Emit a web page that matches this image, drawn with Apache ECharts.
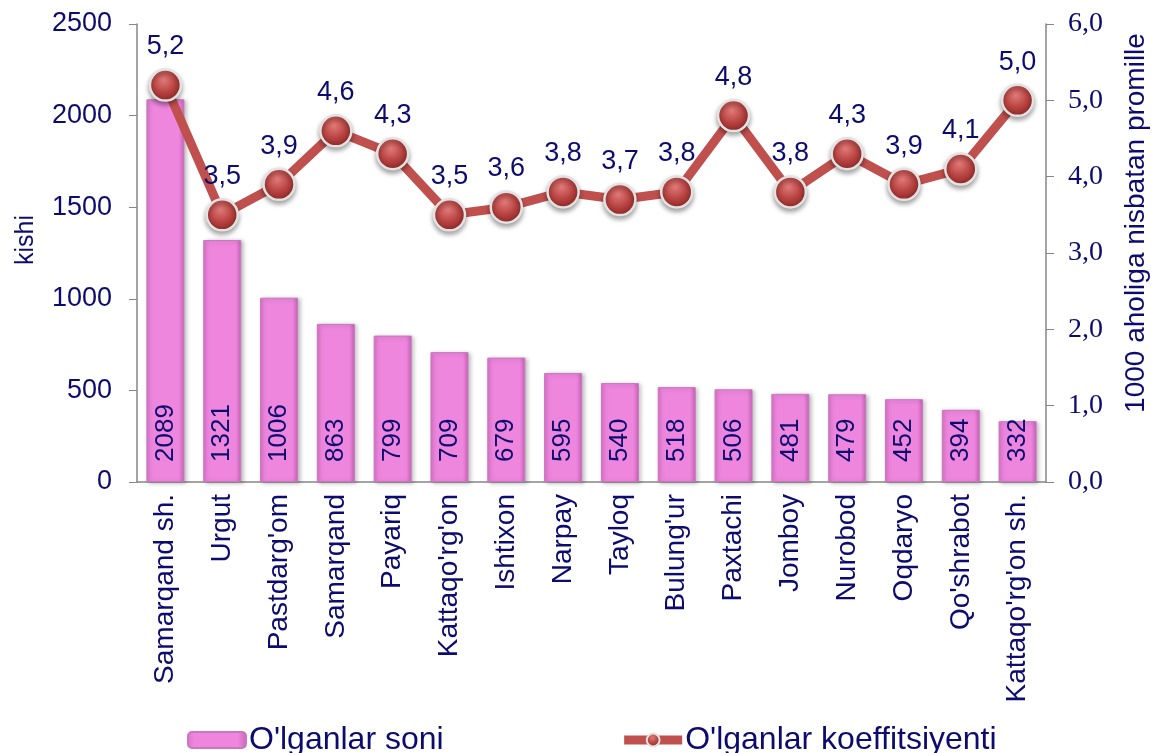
<!DOCTYPE html>
<html>
<head>
<meta charset="utf-8">
<script src="https://cdn.jsdelivr.net/npm/echarts@6/dist/echarts.min.js"></script>
<style>
  html, body { margin: 0; padding: 0; background: #fff; }
  #chart { width: 1158px; height: 753px; }
</style>
</head>
<body>
<div id="chart"></div>
<script>
// data
const districts = ['Samarqand sh.', 'Urgut', "Pastdarg'om", 'Samarqand', 'Payariq', "Kattaqo'rg'on",
  'Ishtixon', 'Narpay', 'Tayloq', "Bulung'ur", 'Paxtachi', 'Jomboy', 'Nurobod', 'Oqdaryo',
  "Qo'shrabot", "Kattaqo'rg'on sh."];
const deaths = [2089, 1321, 1006, 863, 799, 709, 679, 595, 540, 518, 506, 481, 479, 452, 394, 332];
const rates = [5.2, 3.5, 3.9, 4.6, 4.3, 3.5, 3.6, 3.8, 3.7, 3.8, 4.8, 3.8, 4.3, 3.9, 4.1, 5.0];

const navy = '#0c0c70';
const axisGray = '#868686';
const comma = v => v.toFixed(1).replace('.', ',');

const chart = echarts.init(document.getElementById('chart'));

const barFill = new echarts.graphic.LinearGradient(0, 0, 1, 0, [
  { offset: 0, color: '#dc70cc' },
  { offset: 0.12, color: '#ee86de' },
  { offset: 0.85, color: '#ee86de' },
  { offset: 1, color: '#c862b8' }
]);
const markerFill = new echarts.graphic.RadialGradient(0.45, 0.35, 0.65, [
  { offset: 0, color: '#e07a78' },
  { offset: 0.55, color: '#b94442' },
  { offset: 1, color: '#8c2624' }
]);

const option = {
  animation: false,
  backgroundColor: '#fff',
  textStyle: { fontFamily: 'Liberation Sans, Arial, sans-serif' },
  grid: { left: 137, right: 105, top: 24, bottom: 271 },
  legend: {
    left: 182,
    top: 719,
    itemWidth: 58,
    itemHeight: 16,
    itemGap: 176,
    textStyle: { color: navy, fontSize: 32, padding: [0, 0, 0, -2] },
    data: [
      { name: "O'lganlar soni" },
      {
        name: "O'lganlar koeffitsiyenti",
        lineStyle: { color: '#c0504d', width: 9 },
        itemStyle: { color: markerFill, borderColor: '#e2e2e2', borderWidth: 2 }
      }
    ]
  },
  xAxis: {
    type: 'category',
    data: districts,
    axisLine: { lineStyle: { color: axisGray, width: 1.5 } },
    axisTick: { length: 6, lineStyle: { color: axisGray } },
    axisLabel: { rotate: 90, color: navy, fontSize: 28, margin: 12 }
  },
  yAxis: [
    {
      type: 'value',
      min: 0, max: 2500, interval: 500,
      name: 'kishi',
      nameLocation: 'middle',
      nameGap: 98,
      nameTextStyle: { color: navy, fontSize: 25, padding: [0, 0, 0, 26] },
      splitLine: { show: false },
      axisLine: { show: true, lineStyle: { color: axisGray, width: 1.5 } },
      axisTick: { show: true, length: 8, lineStyle: { color: axisGray } },
      axisLabel: { color: navy, fontSize: 27, margin: 25, formatter: v => String(v) }
    },
    {
      type: 'value',
      min: 0, max: 6, interval: 1,
      position: 'right',
      name: '1000 aholiga nisbatan promille',
      nameLocation: 'middle',
      nameGap: 76,
      nameRotate: 90,
      nameTextStyle: { color: navy, fontSize: 28, padding: [0, 0, 0, 60] },
      splitLine: { show: false },
      axisLine: { show: true, lineStyle: { color: axisGray, width: 1.5 } },
      axisTick: { show: true, length: 8, lineStyle: { color: axisGray } },
      axisLabel: {
        color: navy, fontSize: 28, margin: 22,
        fontFamily: 'Liberation Serif, Times New Roman, serif',
        formatter: comma
      }
    }
  ],
  series: [
    {
      name: "O'lganlar soni",
      type: 'bar',
      data: deaths,
      barWidth: 38,
      itemStyle: {
        color: barFill,
        borderColor: '#c878bc',
        borderWidth: 1,
        shadowColor: 'rgba(0,0,0,0.25)',
        shadowBlur: 4,
        shadowOffsetX: 2,
        shadowOffsetY: 1
      },
      label: {
        show: true,
        position: 'insideBottom',
        rotate: 90,
        align: 'left',
        verticalAlign: 'middle',
        distance: 20,
        color: navy,
        fontSize: 26
      },
      z: 2
    },
    {
      name: "O'lganlar koeffitsiyenti",
      type: 'line',
      yAxisIndex: 1,
      data: rates,
      symbol: 'circle',
      symbolSize: 31,
      lineStyle: { color: '#c0504d', width: 9 },
      itemStyle: {
        color: markerFill,
        borderColor: '#e2e2e2',
        borderWidth: 2.5,
        shadowColor: 'rgba(0,0,0,0.35)',
        shadowBlur: 5,
        shadowOffsetY: 3
      },
      label: {
        show: true,
        position: 'top',
        distance: 8,
        color: navy,
        fontSize: 27,
        formatter: p => comma(p.value)
      },
      z: 3
    }
  ]
};

chart.setOption(option);
</script>
</body>
</html>
